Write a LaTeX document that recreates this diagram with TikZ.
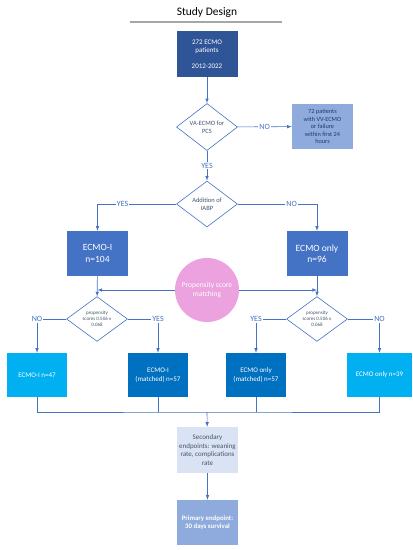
\documentclass[tikz,border=0pt]{standalone}
\usepackage{fontspec}
\setmainfont{Carlito}
\usetikzlibrary{arrows, shapes.geometric}
\definecolor{lineblue}{HTML}{4472C4}
\definecolor{darkblue}{HTML}{2F5597}
\definecolor{midblue}{HTML}{4472C4}
\definecolor{paleblue}{HTML}{8FAADC}
\definecolor{lightblue}{HTML}{DAE3F3}
\definecolor{cyanbox}{HTML}{00B0F0}
\definecolor{deepblue}{HTML}{0070C0}
\definecolor{orchid}{HTML}{EBA2DE}
\definecolor{slate}{HTML}{44546A}

\begin{document}
\begin{tikzpicture}[x=1pt, y=-1pt,
  box/.style={rectangle, inner sep=1pt, minimum width=#1, minimum height=45pt, align=center, text=white, font=\fontsize{7}{8.5}\selectfont},
  box/.default=61pt,
  ask/.style={diamond, draw=lineblue, line width=0.6pt, fill=white, inner sep=0pt, minimum width=61pt, minimum height=44pt, align=center, text=slate, font=\fontsize{6.5}{8}\selectfont},
  link/.style={draw=lineblue, line width=0.6pt},
  tag/.style={fill=white, inner sep=1pt, text=lineblue, font=\fontsize{8}{9}\selectfont}
  ]
  \useasboundingbox (0,0) rectangle (413,550);
  % title
  \node (title) at (207,12) {\fontsize{11.5}{13}\selectfont Study Design};
  \draw[gray!70, line width=1.2pt] (130,22) -- (282,22);
  % top part
  \node[box, fill=darkblue, minimum height=46pt] (start) at (207,54) {272 ECMO\\patients\\[7pt]2012-2022};
  \node[ask] (va) at (207,127) {VA-ECMO for\\PCS};
  \node[box, fill=paleblue, text=darkblue!70!black, font=\fontsize{6.3}{7.5}\selectfont] (excl) at (322.5,126.5) {72 patients\\with VV-ECMO\\or failure\\within first 24\\hours};
  \node[ask, minimum height=46pt] (iabp) at (207,204) {Addition of\\IABP};
  \node[box, fill=midblue, font=\fontsize{9.5}{11.5}\selectfont] (ecmoi) at (97.5,253.5) {ECMO-I\\n=104};
  \node[box, fill=midblue, font=\fontsize{9.5}{11.5}\selectfont] (ecmoo) at (317,253.5) {ECMO only\\n=96};
  \node[circle, fill=orchid, minimum size=64pt, inner sep=0pt, align=center, text=white, font=\fontsize{7.5}{9.5}\selectfont] (psm) at (207,290) {Propensity score\\matching};
  % matching
  \node[ask, minimum height=40pt, font=\fontsize{5}{6.2}\selectfont] (psl) at (97,319) {propensity\\scores 0.506 ±\\0.068};
  \node[ask, minimum height=40pt, font=\fontsize{5}{6.2}\selectfont] (psr) at (317,319) {propensity\\scores 0.506 ±\\0.068};
  \node[box=60pt, fill=cyanbox, minimum height=44pt] (i47) at (37,375) {ECMO-I n=47};
  \node[box=60pt, fill=deepblue, minimum height=44pt] (im57) at (158,375) {ECMO-I\\(matched) n=57};
  \node[box=60pt, fill=deepblue, minimum height=44pt] (om57) at (256,375) {ECMO only\\(matched) n=57};
  \node[box=65pt, fill=cyanbox, minimum height=44pt] (o39) at (379.5,375) {ECMO only n=39};
  % endpoints
  \coordinate (join) at (207,412);
  \node[box, fill=lightblue, text=slate, minimum height=46pt] (second) at (207.5,450) {Secondary\\endpoints: weaning\\rate, complications\\rate};
  \node[box, fill=paleblue, font=\bfseries\fontsize{6.8}{8.5}\selectfont] (prim) at (207.5,522.5) {Primary endpoint:\\30 days survival};

  \draw[link, -latex] (start) -- (va);
  \draw[link, -latex] (va) -- node[tag] {NO} (excl);
  \draw[link, -latex] (va) -- node[tag] {YES} (iabp);
  \draw[link, -latex] (iabp.west) -| node[tag, pos=0.34] {YES} (ecmoi.north);
  \draw[link, -latex] (iabp.east) -| node[tag, pos=0.34] {NO} (ecmoo.north);
  \draw[link, -latex] (ecmoi) -- (psl);
  \draw[link, -latex] (ecmoo) -- (psr);
  \draw[link, -latex] (psm.west) -- (psm.west -| ecmoi.south);
  \draw[link, -latex] (psm.east) -- (psm.east -| ecmoo.south);
  \draw[link, -latex] (psl.west) -| node[tag, pos=0.5] {NO} (i47.north);
  \draw[link, -latex] (psl.east) -| node[tag, pos=0.5] {YES} (im57.north);
  \draw[link, -latex] (psr.west) -| node[tag, pos=0.5] {YES} (om57.north);
  \draw[link, -latex] (psr.east) -| node[tag, pos=0.5] {NO} (o39.north);
  \draw[link] (i47.south) |- (join) -| (o39.south);
  \draw[link] (im57.south) -- (im57.south |- join);
  \draw[link] (om57.south) -- (om57.south |- join);
  \draw[link, -latex] (join) -- (second);
  \draw[link, -latex] (second) -- (prim);
\end{tikzpicture}
\end{document}
